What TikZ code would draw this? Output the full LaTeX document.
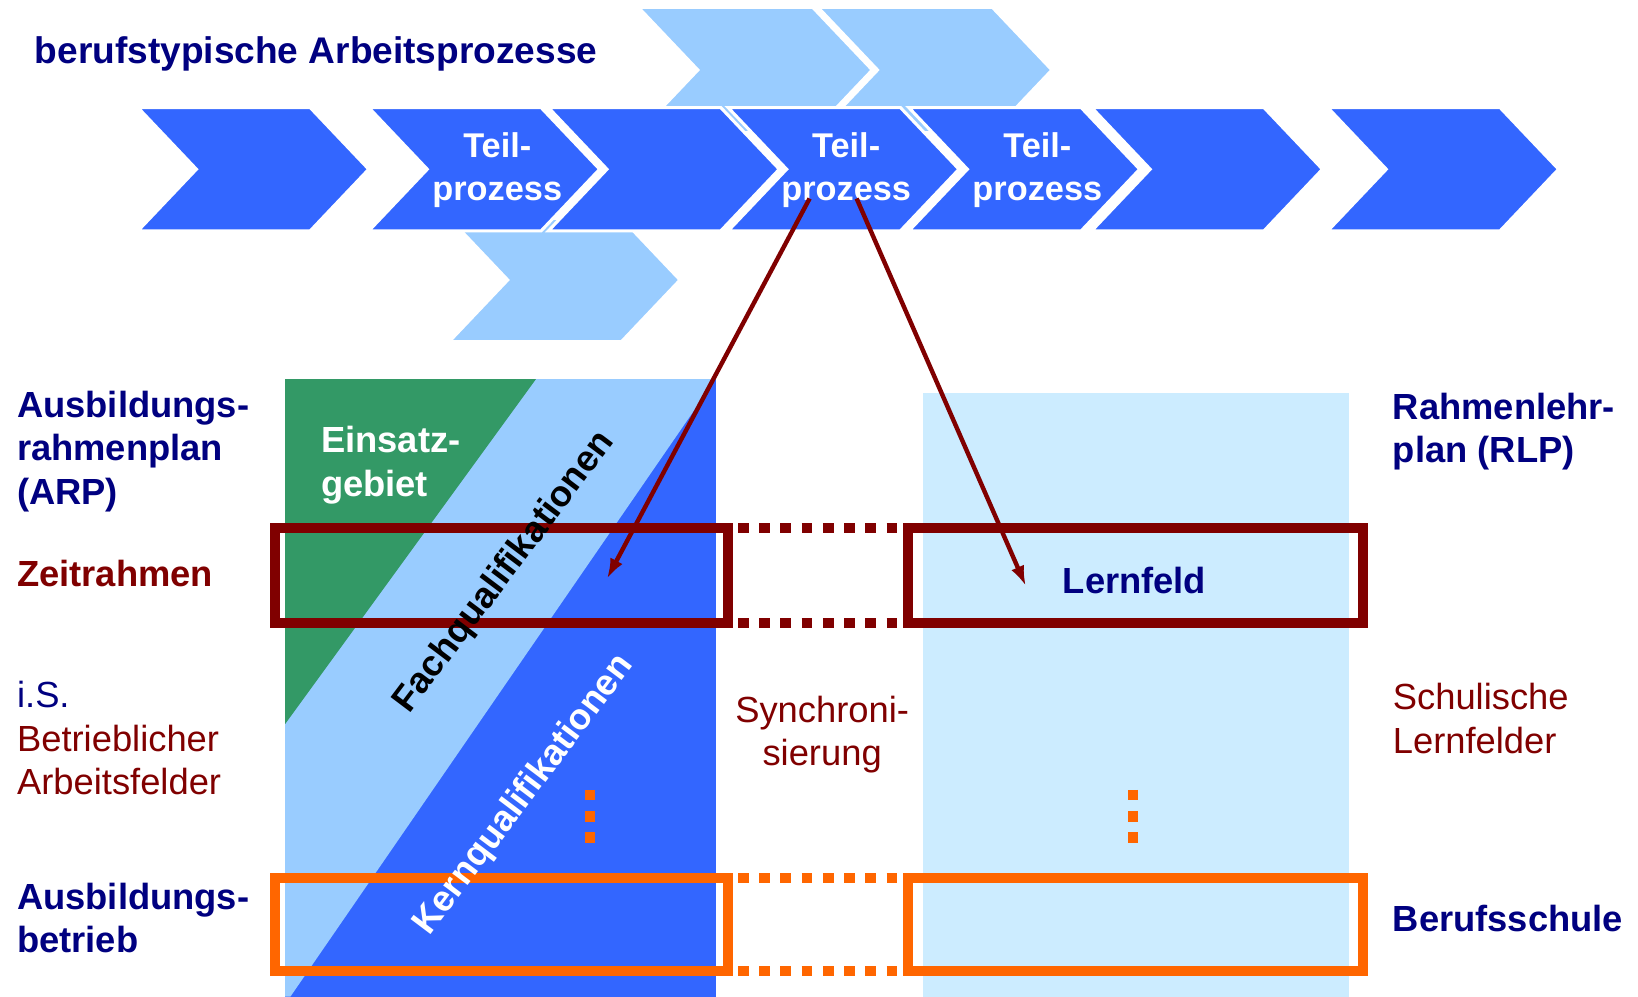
\documentclass[tikz,border=0pt]{standalone}
\usepackage{fontspec}
\setmainfont{Liberation Sans}
\usetikzlibrary{calc}
\usetikzlibrary{arrows.meta}

\definecolor{prozblau}{HTML}{3366FF}
\definecolor{hellblau}{HTML}{99CCFF}
\definecolor{schulblau}{HTML}{CCECFF}
\definecolor{einsatzgruen}{HTML}{339966}
\definecolor{dunkelrot}{HTML}{800000}
\definecolor{rahmenorange}{HTML}{FF6600}
\definecolor{marine}{HTML}{000080}

\tikzset{
    chev/.style={fill=prozblau, draw=white, line width=1.7pt, line join=miter},
    hellchev/.style={fill=hellblau, draw=white, line width=1.7pt, line join=miter},
    fett/.style={font=\bfseries\fontsize{19.8}{23.8}\selectfont, inner sep=0pt, align=left},
    duenn/.style={font=\fontsize{19.8}{23.8}\selectfont, inner sep=0pt, align=left},
    teil/.style={font=\bfseries\fontsize{18.7}{23.2}\selectfont, inner sep=0pt, align=center, text=white, anchor=base},
    rotrahmen/.style={draw=dunkelrot, line width=5.44pt},
    orangerahmen/.style={draw=rahmenorange, line width=5.44pt},
    rotpunkte/.style={draw=dunkelrot, line width=5.44pt, dash pattern=on 5.78pt off 5.78pt},
    orangepunkte/.style={draw=rahmenorange, line width=5.44pt, dash pattern=on 5.78pt off 5.78pt},
    pfeil/.style={draw=dunkelrot, line width=2.4pt, -{Latex[length=11pt,width=7.5pt]}},
}

\begin{document}
\begin{tikzpicture}[x=0.02cm, y=-0.02cm]
    \useasboundingbox (0,0) rectangle (1568,954);

    \coordinate (s1) at (775,190);
    \coordinate (e1) at (581,554);
    \coordinate (s2) at (820,190);
    \coordinate (e2) at (982,561);

    % Prozesskette
    \foreach \x in {611,783}
        \filldraw[hellchev] (\x,7) -- ++(167,0) -- ++(57,60) -- ++(-57,60) -- ++(-167,0) -- ++(57,-60) -- cycle;
    \filldraw[hellchev] (430,209) -- ++(165,0) -- ++(56,59) -- ++(-56,59) -- ++(-165,0) -- ++(56,-59) -- cycle;
    \foreach \x in {132,353,525,697,870,1045,1271}
        \filldraw[chev] (\x,103) -- ++(165,0) -- ++(56,59) -- ++(-56,59) -- ++(-165,0) -- ++(56,-59) -- cycle;

    \node[fett, text=marine, anchor=base west, font=\bfseries\fontsize{20.2}{24}\selectfont] (titel) at (33,61) {berufstypische Arbeitsprozesse};
    \node[teil] (tp2) at (476,192) {Teil-\\prozess};
    \node[teil] (tp4) at (810,192) {Teil-\\prozess};
    \node[teil] (tp5) at (993,192) {Teil-\\prozess};

    % Betrieb und Schule
    \fill[prozblau] (273,363) rectangle (685,954);
    \fill[hellblau] (273,363) -- (685,363) -- (278,954) -- (273,954) -- cycle;
    \fill[einsatzgruen] (273,363) -- (513,363) -- (273,693) -- cycle;
    \fill[schulblau] (884,376) rectangle (1291,954);

    \draw[rotrahmen] (263.5,505.5) rectangle (696.5,596.5);
    \draw[rotrahmen] (869.5,505.5) rectangle (1305,596.5);
    \draw[orangerahmen] (263.5,840) rectangle (696.5,929.5);
    \draw[orangerahmen] (869.5,840) rectangle (1305,929.5);

    \draw[rotpunkte] (706.5,505.5) -- (862,505.5);
    \draw[rotpunkte] (706.5,596.5) -- (862,596.5);
    \draw[orangepunkte] (706.5,840) -- (862,840);
    \draw[orangepunkte] (706.5,929.5) -- (862,929.5);
    \draw[orangepunkte] (564.5,756) -- (564.5,807);
    \draw[orangepunkte] (1084.5,756) -- (1084.5,807);

    \node[fett, text=white, anchor=base west] (einsatz) at (307,475) {Einsatz-\\gebiet};
    \node[fett, rotate=53] (fach) at (483,548) {Fachqualifikationen};
    \node[fett, text=white, rotate=53] (kern) at (502,761) {Kernqualifikationen};
    \node[fett, text=marine, anchor=base] (lernfeld) at (1086,568) {Lernfeld};
    \node[duenn, text=dunkelrot, align=center, anchor=base] (sync) at (787,733) {Synchroni-\\sierung};

    % Beschriftung links und rechts
    \node[fett, text=marine, anchor=base west] (arp) at (16,483) {Ausbildungs-\\rahmenplan\\(ARP)};
    \node[fett, text=dunkelrot, anchor=base west] (zeit) at (16,561) {Zeitrahmen};
    \node[duenn, text=dunkelrot, anchor=base west] (felder) at (16,761) {\textcolor{marine}{i.S.}\\Betrieblicher\\Arbeitsfelder};
    \node[fett, text=marine, anchor=base west] (betrieb) at (16,912) {Ausbildungs-\\betrieb};
    \node[fett, text=marine, anchor=base west] (rlp) at (1333,443) {Rahmenlehr-\\plan (RLP)};
    \node[duenn, text=dunkelrot, anchor=base west] (schule) at (1333,721) {Schulische\\Lernfelder};
    \node[fett, text=marine, anchor=base west] (bs) at (1333,892) {Berufsschule};

    \draw[pfeil] (s1) -- (e1);
    \draw[pfeil] (s2) -- (e2);
\end{tikzpicture}
\end{document}
